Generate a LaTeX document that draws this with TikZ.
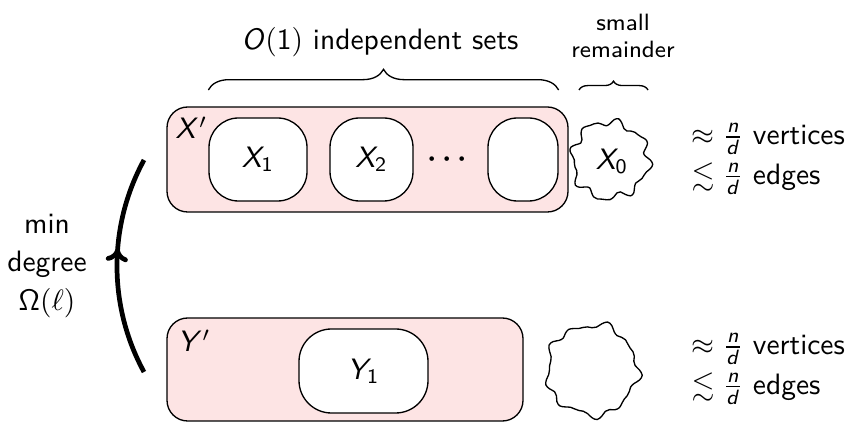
\documentclass[tikz,border=0pt]{standalone}
\usepackage{amssymb}
\usetikzlibrary{decorations.pathreplacing,decorations.markings,arrows.meta}
\definecolor{setpink}{RGB}{253,228,228}
\newcommand\pxu{0.339pt}
% sans-serif letters and digits for the formulas
\DeclareMathAlphabet{\mathsfit}{OT1}{cmss}{m}{sl}
\DeclareMathAlphabet{\mathsfup}{OT1}{cmss}{m}{n}
\newcommand\sv[1]{\mathsfit{#1}}
\newcommand\sn[1]{\mathsfup{#1}}

\begin{document}
\begin{tikzpicture}[x=0.339pt,y=-0.339pt,
  every node/.append style={font=\sffamily},
  outerset/.style={draw, fill=setpink, rounded corners=7pt, line width=0.45pt,
    inner sep=0pt},
  innerset/.style={draw, fill=white, rounded corners=10pt, line width=0.45pt,
    inner sep=0pt, minimum height=83*\pxu},
  setlabel/.style={anchor=north west, inner sep=0pt},
  bracelbl/.style={inner sep=1pt},
  blob/.style={line width=0.45pt, smooth cycle, tension=0.6},
  bigbrace/.style={decorate, decoration={brace, amplitude=#1}, line width=0.45pt},
  stats/.style={anchor=west, align=left, inner sep=0pt},
  degarrow/.style={line width=1.6pt, postaction={decorate}, decoration={markings,
    mark=at position 0.58 with {\arrow{To[length=4.5pt,width=7.5pt]}}}}
]
\useasboundingbox (0,0) rectangle (857,423);

% upper level: X' with its independent sets
\node[outerset, minimum width=401*\pxu, minimum height=105*\pxu] (xp) at (367.5,159.5) {};
\node[setlabel] (xplbl) at (175,116) {$\sv{X}'$};
\node[innerset, minimum width=98*\pxu] (x1) at (258,159.5) {$\sv{X}_{\sn{1}}$};
\node[innerset, minimum width=83*\pxu] (x2) at (371.5,159.5) {$\sv{X}_{\sn{2}}$};
\node[font=\sffamily\boldmath] (dots) at (447,159.5) {$\cdots$};
\node[innerset, minimum width=70*\pxu] (x3) at (523,159.5) {};

% small remainder X_0
\node (x0) at (612,161) {$\sv{X}_{\sn{0}}$};
\draw[blob] plot[domain=0:354, samples=60]
  ({610+38*(1+0.08*sin(8*\x)+0.05*sin(13*\x+40)+0.03*sin(3*\x+100))*cos(\x)},
   {160+38*(1+0.08*sin(8*\x)+0.05*sin(13*\x+40)+0.03*sin(3*\x+100))*sin(\x)});

% lower level: Y'
\node[outerset, minimum width=356*\pxu, minimum height=103*\pxu] (yp) at (345,369.5) {};
\node[setlabel] (yplbl) at (177,329) {$\sv{Y}'$};
\node[innerset, minimum width=129*\pxu, minimum height=84*\pxu, rounded corners=11pt] (y1) at (363.5,371) {$\sv{Y}_{\sn{1}}$};
\coordinate (y0) at (592,370);
\draw[blob] plot[domain=0:354, samples=60]
  ({592+45*(1+0.05*sin(9*\x+20)+0.04*sin(5*\x+70)+0.035*sin(14*\x))*cos(\x)},
   {370+45*(1+0.05*sin(9*\x+20)+0.04*sin(5*\x+70)+0.035*sin(14*\x))*sin(\x)});

% braces and their captions
\coordinate (bl) at (x1.west |- 0,90);
\coordinate (br) at (x3.east |- 0,90);
\draw[bigbrace=7pt] (bl) -- (br);
\node[bracelbl] (indep) at (380,42) {$\sv{O}\sn{(1)}$ independent sets};
\coordinate (sl) at (579,90);
\coordinate (sr) at (648,90);
\draw[bigbrace=3pt] (sl) -- (sr);
\node[bracelbl, align=center, font=\footnotesize\sffamily, text depth=0pt] (small) at (623,36)
  {small\\[-0.5pt]remainder};

% size bounds
\node[stats] (xstats) at (691,159)
  {$\approx \frac{\sv{n}}{\sv{d}}$ vertices\\[1.5pt] $\lesssim \frac{\sv{n}}{\sv{d}}$ edges};
\node[stats] (ystats) at (691,369)
  {$\approx \frac{\sv{n}}{\sv{d}}$ vertices\\[1.5pt] $\lesssim \frac{\sv{n}}{\sv{d}}$ edges};

% minimum degree arrow from Y' up to X'
\coordinate (arcS) at (144,372);
\coordinate (arcE) at (144,160);
\draw[degarrow] (arcS) .. controls (108,306) and (108,226) .. (arcE);
\node[align=center] (mindeg) at (47,266) {min\\[1pt]degree\\[1pt]$\sn{\Omega(}\ell\sn{)}$};
\end{tikzpicture}
\end{document}
